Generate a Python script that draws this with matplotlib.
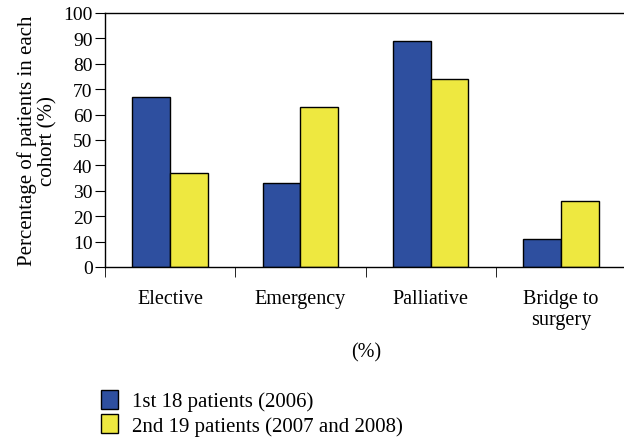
import numpy as np
import matplotlib.pyplot as plt
from matplotlib.patches import Patch

categories = ["Elective", "Emergency", "Palliative", "Bridge to\nsurgery"]
first_cohort = [67, 33, 89, 11]
second_cohort = [37, 63, 74, 26]
series_names = ["1st 18 patients (2006)", "2nd 19 patients (2007 and 2008)"]

plt.rcParams['font.family'] = ['Liberation Serif', 'DejaVu Serif']

blue = '#2E4F9F'
yellow = '#EEE840'

fig = plt.figure(figsize=(6.24, 4.39), dpi=100)
# right spine falls just outside the picture, as in the original
ax = fig.add_axes([105 / 624, 1 - 268 / 439, 521 / 624, 254 / 439])

x = np.arange(len(categories))
w = 0.29
ax.bar(x - w / 2, first_cohort, w, color=blue, edgecolor='black', linewidth=1.0)
ax.bar(x + w / 2, second_cohort, w, color=yellow, edgecolor='black', linewidth=1.0)

ax.set_xlim(-0.5, 3.5)
ax.set_ylim(0, 100)
ax.set_yticks(range(0, 101, 10))
ax.tick_params(axis='y', labelsize=14, length=7, direction='out', pad=2)

ax.set_xticks(x)
ax.set_xticklabels(categories, fontsize=14.5, linespacing=1.1)
ax.set_xticks(np.arange(-0.5, 3.6, 1), minor=True)
ax.tick_params(axis='x', which='major', length=0, pad=16)
ax.tick_params(axis='x', which='minor', length=7, direction='out')

for s in ['left', 'bottom', 'top', 'right']:
    ax.spines[s].set_linewidth(1.0)

ax.set_ylabel("Percentage of patients in each\ncohort (%)", fontsize=15, linespacing=1.1, labelpad=4)

fig.text(366 / 624, 1 - 353 / 439, "(%)", fontsize=14.5, ha='center', va='center')

handles = [Patch(facecolor=blue, edgecolor='black'), Patch(facecolor=yellow, edgecolor='black')]
fig.legend(handles, series_names, loc='lower left', bbox_to_anchor=(0.132, -0.038), frameon=False,
           fontsize=15, handlelength=0.8, handleheight=1.0, handletextpad=0.7, labelspacing=0.15)

fig.savefig('out.png', dpi=100)
